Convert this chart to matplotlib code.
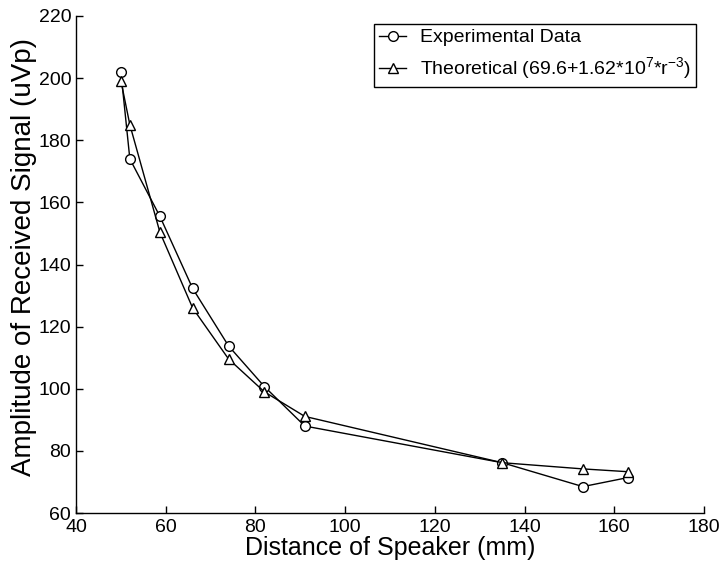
import matplotlib.pyplot as plt

plt.rcParams["font.family"] = ["Liberation Sans", "DejaVu Sans"]
plt.rcParams["mathtext.fontset"] = "custom"
plt.rcParams["mathtext.rm"] = "Liberation Sans"

# distance of speaker (mm)
distance = [50, 52, 58.7, 66, 74, 82, 91, 135, 153, 163]
# measured amplitude (uVp)
experimental = [202.0, 174.0, 155.5, 132.3, 113.8, 100.7, 88.0, 76.2, 68.5, 71.4]
# theoretical amplitude
theoretical = [199.2, 185.0, 150.4, 126.0, 109.6, 99.0, 91.1, 76.2, 74.2, 73.3]

fig = plt.figure(figsize=(7.26, 5.75), dpi=100)
ax = fig.add_axes([0.1047, 0.1078, 0.8650, 0.8644])

ax.plot(distance, experimental, color="black", linewidth=1.0, marker="o",
        markersize=7, markerfacecolor="white", markeredgecolor="black",
        markeredgewidth=1.0, label="Experimental Data")
ax.plot(distance, theoretical, color="black", linewidth=1.0, marker="^",
        markersize=6.5, markerfacecolor="white", markeredgecolor="black",
        markeredgewidth=1.0, label=r"Theoretical (69.6+1.62*10$^{7}$*r$^{-3}$)")

ax.set_xlim(40, 180)
ax.set_ylim(60, 220)
ax.set_xticks(range(40, 181, 20))
ax.set_yticks(range(60, 221, 20))
ax.tick_params(direction="in", length=5, width=1, labelsize=14)
ax.tick_params(axis="x", pad=4)
ax.tick_params(axis="y", pad=3.5)
ax.spines["top"].set_visible(False)
ax.spines["right"].set_visible(False)
ax.spines["left"].set_linewidth(1)
ax.spines["bottom"].set_linewidth(1)

ax.set_xlabel("Distance of Speaker (mm)", fontsize=18, labelpad=0)
ax.set_ylabel("Amplitude of Received Signal (uVp)", fontsize=20, labelpad=0)
ax.yaxis.set_label_coords(-0.062, 0.515)

leg = ax.legend(loc="upper right", bbox_to_anchor=(0.987, 0.984), fontsize=14,
                handlelength=1.4, handletextpad=0.7, borderpad=0.25,
                labelspacing=0.45, fancybox=False, framealpha=1,
                edgecolor="black", borderaxespad=0)
leg.get_frame().set_linewidth(1)

plt.savefig("out.png", dpi=100)
